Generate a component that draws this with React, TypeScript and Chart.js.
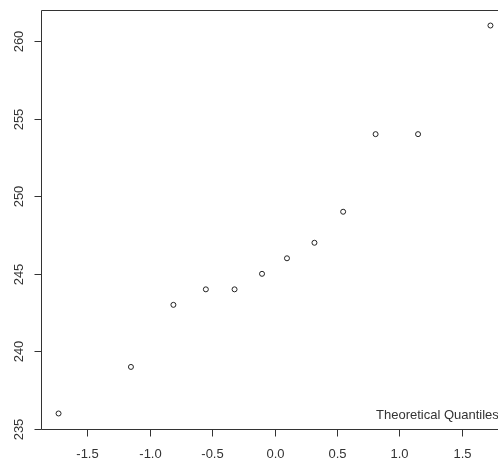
import React, { useEffect, useRef } from "react";
import { Chart, registerables } from "chart.js";

Chart.register(...registerables);

// Theoretical quantiles (x) and sample values (y)
const theoreticalQuantiles = [-1.73, -1.15, -0.81, -0.55, -0.32, -0.1, 0.1, 0.32, 0.55, 0.81, 1.15, 1.73];
const sampleValues = [236, 239, 243, 244, 244, 245, 246, 247, 249, 254, 254, 261];

const xTicks = [-1.5, -1.0, -0.5, 0.0, 0.5, 1.0, 1.5];
const xTickLabels = ["-1.5", "-1.0", "-0.5", "0.0", "0.5", "1.0", "1.5"];
const yTicks = [235, 240, 245, 250, 255, 260];
const yTickLabels = ["235", "240", "245", "250", "255", "260"];
const xRange = [-1.8706, 1.8706];
const yRange = [235, 262];
const annotationText = "Theoretical Quantiles";

const FONT = '13px "Liberation Sans", Arial, sans-serif';
const INK = "#333";

const rAxesPlugin = {
  id: "rAxes",
  afterDraw(chart: any) {
    const { ctx, chartArea } = chart;
    const xs = chart.scales.x;
    const ys = chart.scales.y;
    const L = Math.round(chartArea.left) + 0.5;
    const R = Math.round(chartArea.right) + 0.5;
    const T = Math.round(chartArea.top) + 0.5;
    const B = Math.round(chartArea.bottom) + 0.5;
    ctx.save();
    ctx.strokeStyle = INK;
    ctx.lineWidth = 1;
    ctx.beginPath();
    ctx.moveTo(L, T);
    ctx.lineTo(R, T);
    ctx.lineTo(R, B);
    ctx.lineTo(L, B);
    ctx.closePath();
    ctx.stroke();

    ctx.font = FONT;
    ctx.fillStyle = INK;
    // x ticks
    ctx.textAlign = "center";
    ctx.textBaseline = "middle";
    xTicks.forEach((v, i) => {
      const px = Math.round(xs.getPixelForValue(v)) + 0.5;
      ctx.beginPath();
      ctx.moveTo(px, B);
      ctx.lineTo(px, B + 7);
      ctx.stroke();
      ctx.fillText(xTickLabels[i], px, B + 25);
    });
    // y ticks
    yTicks.forEach((v, i) => {
      const py = Math.round(ys.getPixelForValue(v)) + 0.5;
      ctx.beginPath();
      ctx.moveTo(L, py);
      ctx.lineTo(L - 7, py);
      ctx.stroke();
      ctx.save();
      ctx.translate(L - 22, py);
      ctx.rotate(-Math.PI / 2);
      ctx.fillText(yTickLabels[i], 0, 0);
      ctx.restore();
    });
    // annotation text
    ctx.textAlign = "left";
    ctx.fillText(annotationText, 376, B - 14);
    ctx.restore();
  },
};

export default function App() {
  const ref = useRef<HTMLCanvasElement | null>(null);
  useEffect(() => {
    if (!ref.current) return;
    const chart = new Chart(ref.current, {
      type: "scatter",
      data: {
        datasets: [
          {
            data: theoreticalQuantiles.map((x, i) => ({ x, y: sampleValues[i] })),
            pointStyle: "circle",
            pointRadius: 2.5,
            pointBorderWidth: 1,
            pointBorderColor: "#222",
            pointBackgroundColor: "rgba(255,255,255,0)",
            showLine: false,
          },
        ],
      },
      options: {
        responsive: false,
        animation: false,
        maintainAspectRatio: false,
        layout: { padding: { left: 41, top: 10, right: 5, bottom: 33 } },
        plugins: { legend: { display: false }, tooltip: { enabled: false } },
        scales: {
          x: { type: "linear", min: xRange[0], max: xRange[1], display: false },
          y: { type: "linear", min: yRange[0], max: yRange[1], display: false },
        },
      },
      plugins: [rAxesPlugin],
    });
    return () => chart.destroy();
  }, []);
  return (
    <div
      style={{
        position: "fixed",
        left: 0,
        top: 0,
        width: 498,
        height: 462,
        overflow: "hidden",
        background: "#fff",
      }}
    >
      <canvas ref={ref} width={513} height={462} style={{ display: "block", width: 513, height: 462 }} />
    </div>
  );
}
